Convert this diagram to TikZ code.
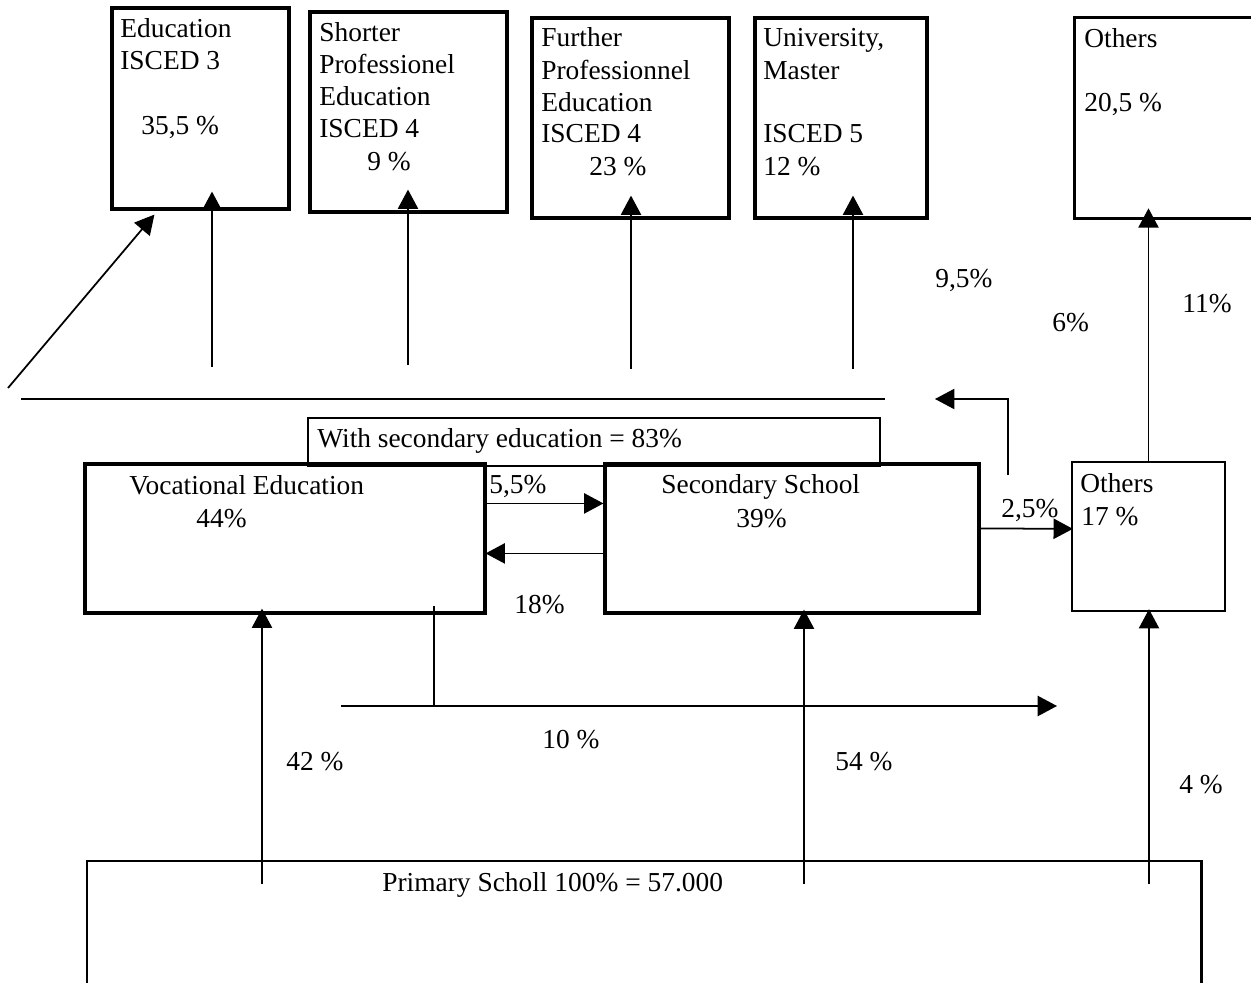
\documentclass[tikz,border=0pt]{standalone}
\usepackage{fontspec}
\setmainfont{Liberation Serif}
\usetikzlibrary{arrows.meta,calc,fit}
\begin{document}
\begin{tikzpicture}[x=0.2mm,y=-0.2mm,
  box/.style={draw,line width=1.8pt,inner sep=0pt},
  thinbox/.style={draw,line width=1.3pt,inner sep=0pt},
  frame/.style={inner sep=0pt},
  txt/.style={anchor=base west,inner sep=0pt,font=\fontsize{15.6}{18}\selectfont},
  arr/.style={-{Triangle[length=11pt,width=11.5pt]},line width=1pt},
  ln/.style={line width=1pt},
  fine/.style={line width=0.75pt}]
\useasboundingbox (0,0) rectangle (1251,983);

% ---------- top boxes ----------
\node[box,fit={(112,8)(289,209)}] (b1) {};
\node[box,fit={(310,12)(507,212)}] (b2) {};
\node[box,fit={(532,18)(729,218)}] (b3) {};
\node[box,fit={(755,18)(927,218)}] (b4) {};
\node[frame,fit={(1075,18)(1251,218)}] (b5) {};
\draw[line width=1.8pt] (b5.north east) -- (b5.north west) -- (b5.south west) -- (b5.south east);

\node[txt] (b1a) at (120,38) {Education};
\node[txt] (b1b) at (120,70) {ISCED 3};
\node[txt] (b1c) at (141,135) {35,5 \%};

\node[txt] (b2a) at (319,42) {Shorter};
\node[txt] (b2b) at (319,74) {Professionel};
\node[txt] (b2c) at (319,106) {Education};
\node[txt] (b2d) at (319,138) {ISCED 4};
\node[txt] (b2e) at (367,171) {9 \%};

\node[txt] (b3a) at (541,47) {Further};
\node[txt] (b3b) at (541,80) {Professionnel};
\node[txt] (b3c) at (541,112) {Education};
\node[txt] (b3d) at (541,143) {ISCED 4};
\node[txt] (b3e) at (589,176) {23 \%};

\node[txt] (b4a) at (763,47) {University,};
\node[txt] (b4b) at (763,80) {Master};
\node[txt] (b4c) at (763,143) {ISCED 5};
\node[txt] (b4d) at (763,176) {12 \%};

\node[txt] (b5a) at (1084,48) {Others};
\node[txt] (b5b) at (1084,112) {20,5 \%};

% ---------- middle ----------
\node[box,fit={(85,464)(485,613)}] (voc) {};
\node[box,fit={(605,464)(979,613)}] (secs) {};
\node[thinbox,fit={(308,418)(880,466)}] (s83) {};
\node[thinbox,fit={(1072,462)(1225,611)}] (oth) {};

\node[txt] (s83t) at (317,448) {With secondary education = 83\%};
\node[txt] (voct) at (129,494) {Vocational Education};
\node[txt] (vocp) at (196,527) {44\%};
\node[txt] (secst) at (661,493) {Secondary School};
\node[txt] (secsp) at (736,527) {39\%};
\node[txt] (otht) at (1080,492) {Others};
\node[txt] (othp) at (1081,525) {17 \%};

\node[txt] (l55) at (489,493) {5,5\%};
\node[txt] (l18) at (514,613) {18\%};
\node[txt] (l25) at (1001,517) {2,5\%};
\node[txt] (l95) at (935,288) {9,5\%};
\node[txt] (l6) at (1052,332) {6\%};
\node[txt] (l11) at (1182,313) {11\%};

% ---------- primary ----------
\node[frame,fit={(87,861)(1201,983)}] (prim) {};
\draw[line width=1.3pt] (prim.south west) -- (prim.north west) -- (prim.north east) -- (prim.south east);
\node[txt] (primt) at (382,891) {Primary Scholl 100\% = 57.000};

\node[txt] (l42) at (286,770) {42 \%};
\node[txt] (l10) at (542,748) {10 \%};
\node[txt] (l54) at (835,770) {54 \%};
\node[txt] (l4) at (1179,793) {4 \%};

% ---------- connectors ----------
\coordinate (hl1) at (21,399);
\coordinate (hl2) at (885,399);
\draw[ln] (hl1) -- (hl2);

\coordinate (s1) at (212,367);
\coordinate (s2) at (408,365);
\coordinate (s3) at (631,369);
\coordinate (s4) at (853,369);
\coordinate (s5) at (8,388);
\draw[arr] (s1) -- ($(s1 |- b1.south)+(0,-19)$);
\draw[arr] (s2) -- ($(s2 |- b2.south)+(0,-24)$);
\draw[arr] (s3) -- ($(s3 |- b3.south)+(0,-24)$);
\draw[arr] (s4) -- ($(s4 |- b4.south)+(0,-24)$);
\draw[arr] (s5) -- ($(b1.south west)+(44,4)$);
\draw[arr] (oth.north) -- ($(oth.north |- b5.south)+(0,-10)$);

\draw[arr] ($(voc.north east)+(-2,41)$) -- ($(secs.north west)+(0,41)$);
\draw[arr] ($(secs.north west)+(2,91)$) -- ($(voc.north east)+(-1,91)$);
\draw[arr] ($(secs.north east)+(0,66)$) -- ($(oth.north west)+(2,68)$);

\coordinate (e1) at (1008,475);
\coordinate (e2) at (935,399);
\draw[arr,fine] (e1) |- (e2);

\coordinate (v1) at (434,606);
\coordinate (h1) at (341,706);
\coordinate (h2) at (1057,706);
\draw[fine] (v1) -- (v1 |- h1);
\draw[arr] (h1) -- (h2);

\coordinate (p1) at (262,884);
\coordinate (p2) at (804,884);
\coordinate (p3) at (1149,884);
\draw[arr] (p1) -- ($(p1 |- voc.south)+(0,-6)$);
\draw[arr] (p2) -- ($(p2 |- secs.south)+(0,-5)$);
\draw[arr] (p3) -- ($(p3 |- oth.south)+(0,-3)$);
\end{tikzpicture}
\end{document}
